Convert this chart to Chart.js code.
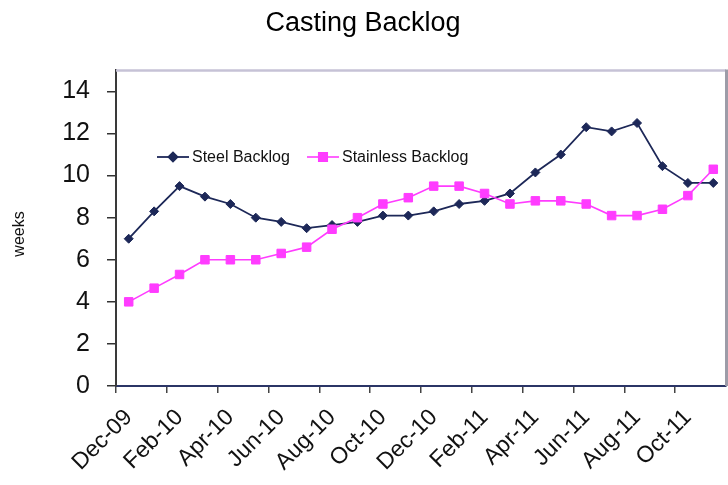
<!DOCTYPE html>
<html>
<head>
<meta charset="utf-8">
<script src="https://cdn.jsdelivr.net/npm/chart.js@4/dist/chart.umd.min.js"></script>
<style>
  html, body { margin: 0; padding: 0; background: #ffffff; overflow: hidden; }
  #wrap { width: 728px; height: 485px; overflow: hidden; }
</style>
</head>
<body>
<div id="wrap"><canvas id="c" width="733" height="485"></canvas></div>
<script>
// Monthly backlog, in weeks
const months = [
  'Dec-09', 'Jan-10', 'Feb-10', 'Mar-10', 'Apr-10', 'May-10', 'Jun-10', 'Jul-10',
  'Aug-10', 'Sep-10', 'Oct-10', 'Nov-10', 'Dec-10', 'Jan-11', 'Feb-11', 'Mar-11',
  'Apr-11', 'May-11', 'Jun-11', 'Jul-11', 'Aug-11', 'Sep-11', 'Oct-11', 'Nov-11'
];
const steelBacklog = [
  7.0, 8.3, 9.5, 9.0, 8.65, 8.0, 7.8, 7.5,
  7.65, 7.8, 8.1, 8.1, 8.3, 8.65, 8.8, 9.15,
  10.15, 11.0, 12.3, 12.1, 12.5, 10.45, 9.65, 9.65
];
const stainlessBacklog = [
  4.0, 4.65, 5.3, 6.0, 6.0, 6.0, 6.3, 6.6,
  7.45, 8.0, 8.65, 8.95, 9.5, 9.5, 9.15, 8.65,
  8.8, 8.8, 8.65, 8.1, 8.1, 8.4, 9.05, 10.3
];
const yTickValues = [0, 2, 4, 6, 8, 10, 12, 14];

const FONT = '"Liberation Sans", Arial, Helvetica, sans-serif';
const STEEL = '#1d2858';
const STAINLESS = '#ff3cff';

// Light frame on the top and right of the plot area
const plotFrame = {
  id: 'plotFrame',
  beforeDatasetsDraw(chart) {
    const { ctx, chartArea: a } = chart;
    ctx.save();
    ctx.lineWidth = 2.5;
    ctx.strokeStyle = '#c6c2d6';
    ctx.beginPath();
    ctx.moveTo(a.left, a.top);
    ctx.lineTo(a.right, a.top);
    ctx.stroke();
    ctx.lineWidth = 3;
    ctx.strokeStyle = '#9d9ca8';
    ctx.beginPath();
    ctx.moveTo(a.right + 0.5, a.top - 1);
    ctx.lineTo(a.right + 0.5, a.bottom);
    ctx.stroke();
    ctx.restore();
  }
};

// Vertical axis caption, left of the tick labels
const axisCaption = {
  id: 'axisCaption',
  afterDraw(chart) {
    const { ctx } = chart;
    ctx.save();
    ctx.translate(20, 234);
    ctx.rotate(-Math.PI / 2);
    ctx.fillStyle = '#111111';
    ctx.font = '16px ' + FONT;
    ctx.textAlign = 'center';
    ctx.textBaseline = 'middle';
    ctx.fillText('weeks', 0, 0);
    ctx.restore();
  }
};

// Legend drawn inside the plot, one row
const innerLegend = {
  id: 'innerLegend',
  afterDraw(chart) {
    const { ctx } = chart;
    const y = 157;
    const items = [{ ds: chart.data.datasets[0], x: 157 }, { ds: chart.data.datasets[1], x: 307 }];
    ctx.save();
    items.forEach(({ ds, x }) => {
      ctx.strokeStyle = ds.borderColor;
      ctx.lineWidth = ds.borderWidth;
      ctx.beginPath();
      ctx.moveTo(x, y);
      ctx.lineTo(x + 32, y);
      ctx.stroke();
      Chart.helpers.drawPoint(ctx, {
        pointStyle: ds.pointStyle,
        radius: ds.pointRadius,
        borderWidth: 1,
        rotation: 0
      }, x + 16, y);
      ctx.fillStyle = ds.pointBackgroundColor;
      ctx.fill();
      ctx.fillStyle = '#111111';
      ctx.font = '16px ' + FONT;
      ctx.textBaseline = 'middle';
      ctx.textAlign = 'left';
      ctx.fillText(ds.label, x + 35, y + 1);
    });
    ctx.restore();
  }
};

new Chart(document.getElementById('c'), {
  type: 'line',
  data: {
    labels: months,
    datasets: [
      {
        label: 'Steel Backlog',
        data: steelBacklog,
        borderColor: STEEL,
        backgroundColor: STEEL,
        pointBackgroundColor: STEEL,
        pointBorderColor: STEEL,
        borderWidth: 1.8,
        pointStyle: 'rectRot',
        pointRadius: 4.5,
        pointBorderWidth: 1,
        tension: 0,
        order: 1
      },
      {
        label: 'Stainless Backlog',
        data: stainlessBacklog,
        borderColor: STAINLESS,
        backgroundColor: STAINLESS,
        pointBackgroundColor: STAINLESS,
        pointBorderColor: STAINLESS,
        borderWidth: 1.6,
        pointStyle: 'rect',
        pointRadius: 6,
        pointBorderWidth: 1,
        tension: 0,
        order: 0
      }
    ]
  },
  options: {
    responsive: false,
    animation: false,
    devicePixelRatio: 1,
    layout: { padding: { top: 0, right: 2, bottom: 0, left: -5 } },
    plugins: {
      legend: { display: false },
      tooltip: { enabled: false },
      title: {
        display: true,
        text: 'Casting Backlog',
        color: '#000000',
        font: { family: FONT, size: 27, weight: 'normal' },
        padding: { top: 7, bottom: 31 }
      }
    },
    scales: {
      x: {
        type: 'category',
        offset: true,
        afterFit(scale) {
          scale.height = 99;
          scale.paddingLeft = 0;
          scale.paddingRight = 0;
        },
        grid: {
          offset: true,
          drawOnChartArea: false,
          drawTicks: true,
          tickLength: 7,
          lineWidth: 1.5,
          color: (c) => (c.index % 2 === 0 ? '#444444' : 'rgba(0,0,0,0)')
        },
        border: { display: true, color: '#2b3566', width: 2 },
        ticks: {
          autoSkip: false,
          minRotation: 45,
          maxRotation: 45,
          padding: 11,
          color: '#111111',
          font: { family: FONT, size: 23 },
          callback: (v, i) => (i % 2 === 0 ? months[i] : '')
        }
      },
      y: {
        min: 0,
        max: 15,
        afterFit(scale) {
          scale.width = 121;
          scale.paddingTop = 0;
          scale.paddingBottom = 0;
        },
        afterBuildTicks(scale) { scale.ticks = yTickValues.map(v => ({ value: v })); },
        grid: {
          drawOnChartArea: false,
          drawTicks: true,
          tickLength: 9,
          lineWidth: 1.5,
          color: '#333333'
        },
        border: { display: true, color: '#3a3a3a', width: 2 },
        ticks: {
          padding: 17,
          color: '#111111',
          font: { family: FONT, size: 25 }
        }
      }
    }
  },
  plugins: [plotFrame, axisCaption, innerLegend]
});
</script>
</body>
</html>
